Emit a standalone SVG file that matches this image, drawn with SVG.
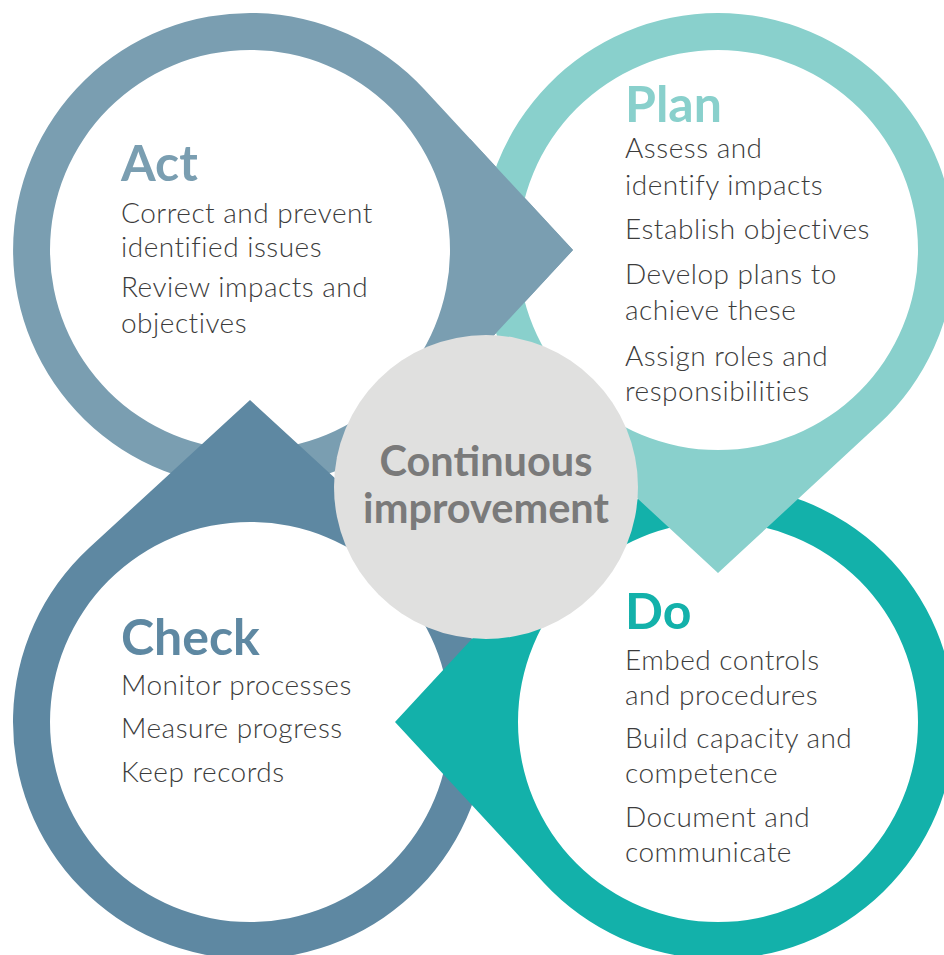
<svg xmlns="http://www.w3.org/2000/svg" xmlns:xlink="http://www.w3.org/1999/xlink" width="944" height="955" viewBox="0 0 944 955">
  <style>
    .ring { fill-rule: evenodd; }
    .act { fill: #7a9eb1; }
    .plan { fill: #89d0cc; }
    .do { fill: #13b1aa; }
    .check { fill: #5e88a2; }
    .head { font-family: Lato, "Open Sans", "Liberation Sans", sans-serif; font-weight: 700; font-size: 50px; }
    .body { font-family: Lato, "Open Sans", "Liberation Sans", sans-serif; font-weight: 300; font-size: 28px; letter-spacing: 0.5px; fill: #3c3c3c; }
    .center { font-family: Lato, "Open Sans", "Liberation Sans", sans-serif; font-weight: 700; font-size: 41.5px; fill: #7a7a7a; text-anchor: middle; }
  </style>
  <defs>
    <path id="act-shape" class="ring act" d="M 573 250 L 424 411 A 237 237 0 1 1 424 89 Z M 50 250 A 200 200 0 1 0 450 250 A 200 200 0 1 0 50 250 Z"/>
    <clipPath id="act-top-clip">
      <rect x="470" y="0" width="200" height="420"/>
    </clipPath>
  </defs>
  <rect width="944" height="955" fill="#ffffff"/>

  <g id="act">
    <use xlink:href="#act-shape" href="#act-shape"/>
  </g>
  <g id="check">
    <path class="ring check" d="M 250 400 L 411 548 A 237 237 0 1 1 89 548 Z M 50 722 A 200 200 0 1 0 450 722 A 200 200 0 1 0 50 722 Z"/>
  </g>
  <g id="do">
    <path class="ring do" d="M 395 722 L 544 561 A 237 237 0 1 1 544 883 Z M 518 722 A 200 200 0 1 0 918 722 A 200 200 0 1 0 518 722 Z"/>
  </g>
  <g id="plan">
    <path class="ring plan" d="M 718 573 L 557 424 A 237 237 0 1 1 879 424 Z M 518 250 A 200 200 0 1 0 918 250 A 200 200 0 1 0 518 250 Z"/>
  </g>
  <g id="act-arrow-overlap">
    <use xlink:href="#act-shape" href="#act-shape" clip-path="url(#act-top-clip)"/>
  </g>

  <g id="act-text">
    <text class="head" x="121" y="181" fill="#7a9eb1">Act</text>
    <text class="body" x="121" y="223">Correct and prevent</text>
    <text class="body" x="121" y="257">identified issues</text>
    <text class="body" x="121" y="297">Review impacts and</text>
    <text class="body" x="121" y="333">objectives</text>
  </g>
  <g id="plan-text">
    <text class="head" x="625" y="122" fill="#89d0cc">Plan</text>
    <text class="body" x="625" y="158">Assess and</text>
    <text class="body" x="625" y="195">identify impacts</text>
    <text class="body" x="625" y="239">Establish objectives</text>
    <text class="body" x="625" y="284">Develop plans to</text>
    <text class="body" x="625" y="320">achieve these</text>
    <text class="body" x="625" y="366">Assign roles and</text>
    <text class="body" x="625" y="401">responsibilities</text>
  </g>
  <g id="do-text">
    <text class="head" x="625" y="629" fill="#13b1aa">Do</text>
    <text class="body" x="625" y="670">Embed controls</text>
    <text class="body" x="625" y="705">and procedures</text>
    <text class="body" x="625" y="748">Build capacity and</text>
    <text class="body" x="625" y="783">competence</text>
    <text class="body" x="625" y="827">Document and</text>
    <text class="body" x="625" y="862">communicate</text>
  </g>
  <g id="check-text">
    <text class="head" x="121" y="655" fill="#5e88a2">Check</text>
    <text class="body" x="121" y="695">Monitor processes</text>
    <text class="body" x="121" y="738">Measure progress</text>
    <text class="body" x="121" y="782">Keep records</text>
  </g>

  <g id="continuous-improvement">
    <circle cx="486" cy="487" r="152" fill="#e0e0df"/>
    <text class="center" x="486" y="476">Continuous</text>
    <text class="center" x="486" y="523">improvement</text>
  </g>
</svg>
